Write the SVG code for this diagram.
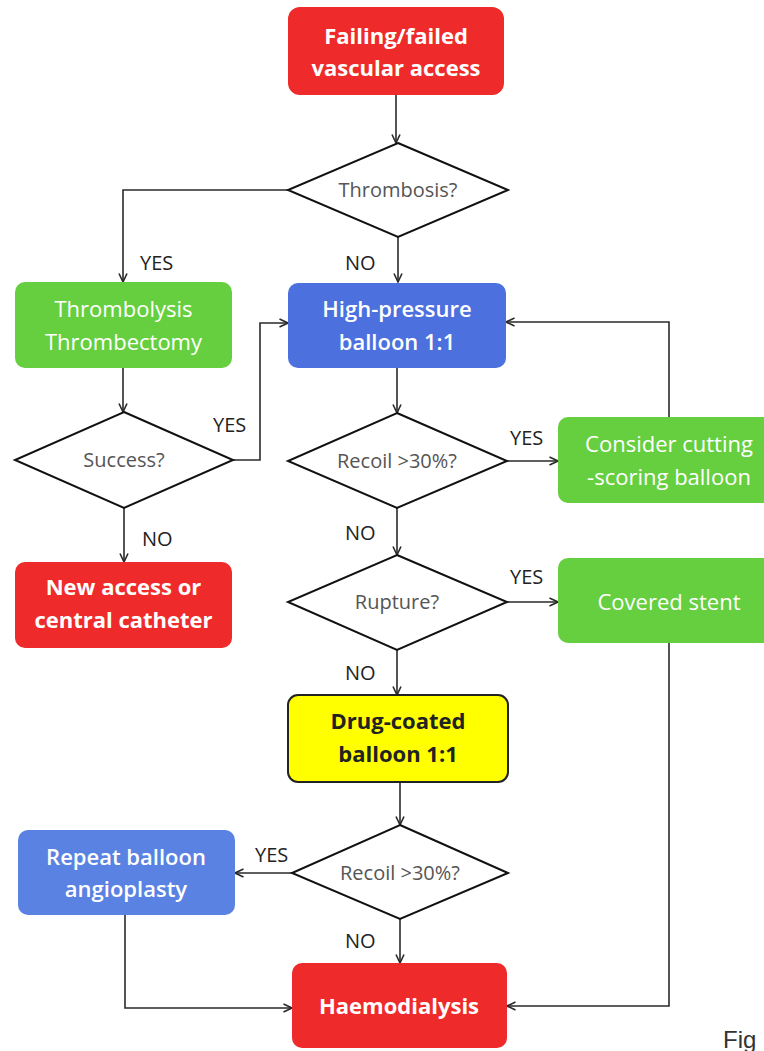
<svg xmlns="http://www.w3.org/2000/svg" width="764" height="1051" viewBox="0 0 764 1051">
<defs>
<marker id="arr" viewBox="0 0 10 10" refX="9.5" refY="5" markerWidth="10" markerHeight="10" markerUnits="userSpaceOnUse" orient="auto">
<path d="M1,1 L9.5,5 L1,9" fill="none" stroke="#2a2a2a" stroke-width="1.6"/>
</marker>
</defs>
<style>
.red{fill:#EF2A2A}
.green{fill:#66CF3F}
.blue{fill:#4C70DE}
.blue2{fill:#5A82E2}
.yellow{fill:#FFFF00;stroke:#222;stroke-width:2}
.dia{fill:#fff;stroke:#111;stroke-width:2}
.t{font-family:"Open Sans","Liberation Sans",sans-serif;font-size:22px;fill:#fff;text-anchor:middle}
.b{font-weight:bold}
.sb{font-weight:600}
.dt{font-family:"Open Sans","Liberation Sans",sans-serif;font-size:20px;fill:#555;text-anchor:middle}
.lab{font-family:"Open Sans","Liberation Sans",sans-serif;font-size:20px;fill:#222}
.c{fill:none;stroke:#2a2a2a;stroke-width:1.6}
</style>
<rect width="764" height="1051" fill="#fff"/>
<g id="connectors">
<path class="c" d="M396,95 V143" marker-end="url(#arr)"/>
<path class="c" d="M288,190 H123 V282" marker-end="url(#arr)"/>
<path class="c" d="M398,237 V282" marker-end="url(#arr)"/>
<path class="c" d="M123,368 V412" marker-end="url(#arr)"/>
<path class="c" d="M233,460 H260 V323 H288" marker-end="url(#arr)"/>
<path class="c" d="M124,508 V562" marker-end="url(#arr)"/>
<path class="c" d="M397,368 V413" marker-end="url(#arr)"/>
<path class="c" d="M507,461 H558" marker-end="url(#arr)"/>
<path class="c" d="M669,417 V322 H506" marker-end="url(#arr)"/>
<path class="c" d="M397,508 V555" marker-end="url(#arr)"/>
<path class="c" d="M507,602 H558" marker-end="url(#arr)"/>
<path class="c" d="M669,643 V1006 H507" marker-end="url(#arr)"/>
<path class="c" d="M397,650 V695" marker-end="url(#arr)"/>
<path class="c" d="M400,782 V825" marker-end="url(#arr)"/>
<path class="c" d="M292,873 H235" marker-end="url(#arr)"/>
<path class="c" d="M125,915 V1008 H292" marker-end="url(#arr)"/>
<path class="c" d="M400,919 V963" marker-end="url(#arr)"/>
<text class="lab" x="140" y="270">YES</text>
<text class="lab" x="345" y="270">NO</text>
<text class="lab" x="213" y="432">YES</text>
<text class="lab" x="142" y="546">NO</text>
<text class="lab" x="510" y="445">YES</text>
<text class="lab" x="345" y="540">NO</text>
<text class="lab" x="510" y="584">YES</text>
<text class="lab" x="345" y="680">NO</text>
<text class="lab" x="255" y="862">YES</text>
<text class="lab" x="345" y="948">NO</text>
</g>
<g id="n1">
<rect class="red" x="288" y="7" width="216" height="88" rx="12"/>
<text class="t b" x="396" y="44" font-size="21">Failing/failed</text>
<text class="t b" x="396" y="76" font-size="21">vascular access</text>
</g>
<g id="d1">
<polygon class="dia" points="398,143 508,190 398,237 288,190"/>
<text class="dt" x="398" y="197">Thrombosis?</text>
</g>
<g id="n2">
<rect class="green" x="15" y="282" width="217" height="86" rx="10"/>
<text class="t" x="123.5" y="317">Thrombolysis</text>
<text class="t" x="123.5" y="350">Thrombectomy</text>
</g>
<g id="n3">
<rect class="blue" x="288" y="283" width="218" height="85" rx="10"/>
<text class="t sb" x="397" y="317">High-pressure</text>
<text class="t sb" x="397" y="350">balloon 1:1</text>
</g>
<g id="d2">
<polygon class="dia" points="124,412 233,460 124,508 15,460"/>
<text class="dt" x="124" y="467">Success?</text>
</g>
<g id="n4">
<rect class="red" x="15" y="562" width="217" height="86" rx="10"/>
<text class="t b" x="123.5" y="595">New access or</text>
<text class="t b" x="123.5" y="628">central catheter</text>
</g>
<g id="d3">
<polygon class="dia" points="397,413 507,461 397,508 288,461"/>
<text class="dt" x="397" y="468">Recoil &gt;30%?</text>
</g>
<g id="n5">
<rect class="green" x="558" y="417" width="222" height="86" rx="10"/>
<text class="t" x="669" y="452">Consider cutting</text>
<text class="t" x="669" y="485">-scoring balloon</text>
</g>
<g id="d4">
<polygon class="dia" points="397,555 507,602 397,650 288,602"/>
<text class="dt" x="397" y="609">Rupture?</text>
</g>
<g id="n6">
<rect class="green" x="558" y="558" width="222" height="85" rx="10"/>
<text class="t" x="669" y="610">Covered stent</text>
</g>
<g id="n7">
<rect class="yellow" x="288" y="695" width="220" height="87" rx="10"/>
<text class="t b" x="398" y="729" style="fill:#222">Drug-coated</text>
<text class="t b" x="398" y="762" style="fill:#222">balloon 1:1</text>
</g>
<g id="d5">
<polygon class="dia" points="400,825 508,873 400,919 292,873"/>
<text class="dt" x="400" y="880">Recoil &gt;30%?</text>
</g>
<g id="n8">
<rect class="blue2" x="18" y="830" width="217" height="85" rx="10"/>
<text class="t sb" x="126" y="865">Repeat balloon</text>
<text class="t sb" x="126" y="897">angioplasty</text>
</g>
<g id="n9">
<rect class="red" x="292" y="963" width="215" height="85" rx="10"/>
<text class="t b" x="399" y="1014">Haemodialysis</text>
</g>
<text x="723" y="1048" font-family="Liberation Sans, Arial, sans-serif" font-size="24" fill="#333">Fig</text>
</svg>
